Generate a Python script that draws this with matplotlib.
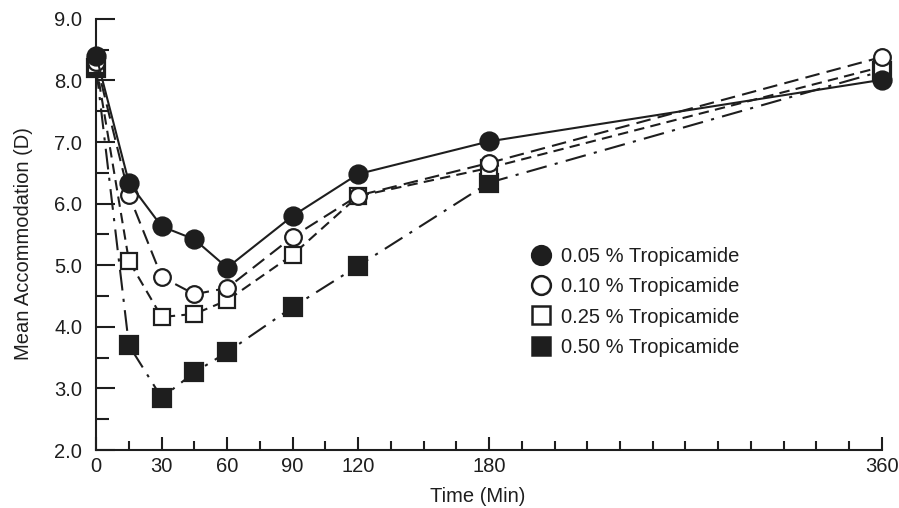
# -*- coding: utf-8 -*-
"""
Mean accommodation after tropicamide, four concentrations.
"""
import matplotlib
matplotlib.use('Agg')
import matplotlib.pyplot as plt
from matplotlib.lines import Line2D
from matplotlib.ticker import MultipleLocator, FixedLocator

plt.rcParams['font.family'] = ['Liberation Sans', 'DejaVu Sans']

time_min = [0, 15, 30, 45, 60, 90, 120, 180, 360]
trop_005 = [8.40, 6.34, 5.63, 5.42, 4.96, 5.80, 6.48, 7.01, 8.01]
trop_010 = [8.30, 6.14, 4.81, 4.53, 4.63, 5.46, 6.13, 6.66, 8.38]
trop_025 = [8.25, 5.07, 4.16, 4.21, 4.43, 5.17, 6.12, 6.58, 8.22]
trop_050 = [8.20, 3.70, 2.85, 3.26, 3.59, 4.32, 4.99, 6.34, 8.15]

labels = ['0.05 % Tropicamide', '0.10 % Tropicamide',
          '0.25 % Tropicamide', '0.50 % Tropicamide']
x_ticks = [0, 30, 60, 90, 120, 180, 360]
y_ticks = [2.0, 3.0, 4.0, 5.0, 6.0, 7.0, 8.0, 9.0]


def main():
    fig = plt.figure(figsize=(8.99, 5.08), dpi=100)
    ax = fig.add_axes([0.107, 0.114, 0.874, 0.849])

    c = '#1e1e1e'
    fs = 14.5
    styles = [
        dict(ls='-', marker='o', mfc=c),
        dict(ls=(0, (7, 3.5)), marker='o', mfc='white'),
        dict(ls=(0, (5, 3)), marker='s', mfc='white'),
        dict(ls=(0, (10, 4, 1.5, 4)), marker='s', mfc=c),
    ]
    series = [trop_005, trop_010, trop_025, trop_050]
    for i, (ys, st) in enumerate(zip(series, styles)):
        ax.plot(time_min, ys, color=c, lw=1.5, ls=st['ls'],
                marker=st['marker'], ms=13 if st['mfc'] == c else 12,
                mfc=st['mfc'], mec=c, mew=1.6, clip_on=False,
                zorder=5 - i)

    ax.xaxis.set_major_locator(FixedLocator(x_ticks))
    ax.xaxis.set_minor_locator(MultipleLocator(15))
    ax.set_yticks(y_ticks)
    ax.set_yticklabels(['%.1f' % v for v in y_ticks])
    ax.yaxis.set_minor_locator(MultipleLocator(0.5))
    ax.set_xlim(0, 360)
    ax.set_ylim(2.0, 9.0)

    ax.spines['right'].set_visible(False)
    ax.spines['top'].set_visible(False)
    for s in ('left', 'bottom'):
        ax.spines[s].set_linewidth(1.5)
        ax.spines[s].set_color(c)

    ax.tick_params(axis='y', which='major', direction='in', length=14,
                   width=1.5, labelsize=fs, pad=10, colors=c)
    ax.tick_params(axis='y', which='minor', direction='in', length=9.5,
                   width=1.5, colors=c)
    ax.tick_params(axis='x', which='major', direction='in', length=9.5,
                   width=1.5, labelsize=fs, pad=5, colors=c)
    ax.tick_params(axis='x', which='minor', direction='in', length=6.5,
                   width=1.5, colors=c)

    ax.set_xlabel('Time (Min)', fontsize=fs, color=c)
    ax.xaxis.set_label_coords(0.485, -0.085)
    ax.set_ylabel('Mean Accommodation (D)', fontsize=fs, color=c)
    ax.yaxis.set_label_coords(-0.08, 0.478)

    # legend shows markers only
    handles = [Line2D([], [], ls='None', marker=st['marker'], ms=13.5,
                      mfc=st['mfc'], mec=c, mew=1.8) for st in styles]
    leg = ax.legend(handles, labels, loc='upper left',
                    bbox_to_anchor=(0.553, 0.470), frameon=False,
                    fontsize=fs, handlelength=1.0, handletextpad=0.5,
                    labelspacing=0.55, borderpad=0, borderaxespad=0)
    for t in leg.get_texts():
        t.set_color(c)

    fig.savefig('out.png', dpi=100)


if __name__ == "__main__":
    main()
